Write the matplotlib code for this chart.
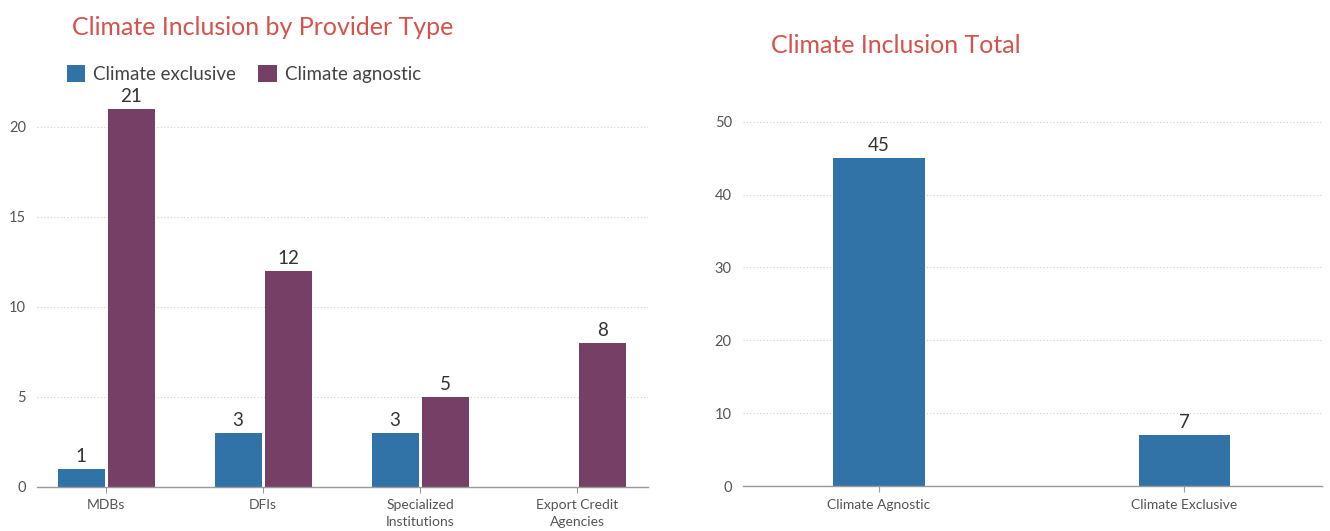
import matplotlib.pyplot as plt
import numpy as np

plt.rcParams["font.family"] = ["Lato", "DejaVu Sans"]

# provider type breakdown
providers = ["MDBs", "DFIs", "Specialized\nInstitutions", "Export Credit\nAgencies"]
climate_exclusive = [1, 3, 3, 0]
climate_agnostic = [21, 12, 5, 8]

# totals
total_labels = ["Climate Agnostic", "Climate Exclusive"]
total_values = [45, 7]

BLUE = "#3273A7"
PURPLE = "#753F66"
TITLE_RED = "#D6524C"
TEXT = "#555555"


def style_axes(ax):
    for side in ["top", "right", "left"]:
        ax.spines[side].set_visible(False)
    ax.spines["bottom"].set_color("#9a9a9a")
    ax.spines["bottom"].set_linewidth(1.0)
    ax.yaxis.grid(True, linestyle=(0, (1, 2)), color="#cfcfcf", linewidth=0.8)
    ax.set_axisbelow(True)
    ax.tick_params(axis="y", length=0, labelsize=10.5, labelcolor=TEXT, pad=8)
    ax.tick_params(axis="x", length=4, color="#9a9a9a", labelsize=10,
                   labelcolor=TEXT, pad=5)


fig = plt.figure(figsize=(13.3, 5.31), dpi=100)

# left chart: grouped bars
ax1 = fig.add_axes([0.028, 0.083, 0.459, 0.729])
x = np.arange(len(providers))
w = 0.30
off = 0.16
b1 = ax1.bar(x - off, climate_exclusive, w, color=BLUE, label="Climate exclusive")
b2 = ax1.bar(x + off, climate_agnostic, w, color=PURPLE, label="Climate agnostic")
ax1.bar_label(b1, labels=[str(v) if v else "" for v in climate_exclusive],
              padding=3, fontsize=13.5, color="#333333")
ax1.bar_label(b2, labels=[str(v) for v in climate_agnostic],
              padding=3, fontsize=13.5, color="#333333")
ax1.set_xticks(x)
ax1.set_xticklabels(providers, linespacing=1.5)
ax1.set_yticks([0, 5, 10, 15, 20])
ax1.set_ylim(0, 21.5)
ax1.set_xlim(-0.44, 3.45)
style_axes(ax1)
ax1.legend(loc="center left", bbox_to_anchor=(0.036, 1.066), ncol=2, frameon=False,
           fontsize=13.5, handlelength=1.0, handleheight=1.0, handletextpad=0.4,
           columnspacing=1.2, labelcolor="#444444", borderaxespad=0.0)

fig.text(0.054, 0.949, "Climate Inclusion by Provider Type", fontsize=18,
         color=TITLE_RED, ha="left", va="center")

# right chart: totals
ax2 = fig.add_axes([0.5586, 0.0847, 0.4354, 0.693])
xt = np.arange(len(total_labels))
b3 = ax2.bar(xt, total_values, 0.30, color=BLUE)
ax2.bar_label(b3, padding=3, fontsize=13.5, color="#333333")
ax2.set_xticks(xt)
ax2.set_xticklabels(total_labels)
ax2.set_yticks([0, 10, 20, 30, 40, 50])
ax2.set_ylim(0, 50.5)
ax2.set_xlim(-0.444, 1.45)
style_axes(ax2)

fig.text(0.5797, 0.915, "Climate Inclusion Total", fontsize=18,
         color=TITLE_RED, ha="left", va="center")

fig.savefig("out.png", dpi=100, facecolor="white")
